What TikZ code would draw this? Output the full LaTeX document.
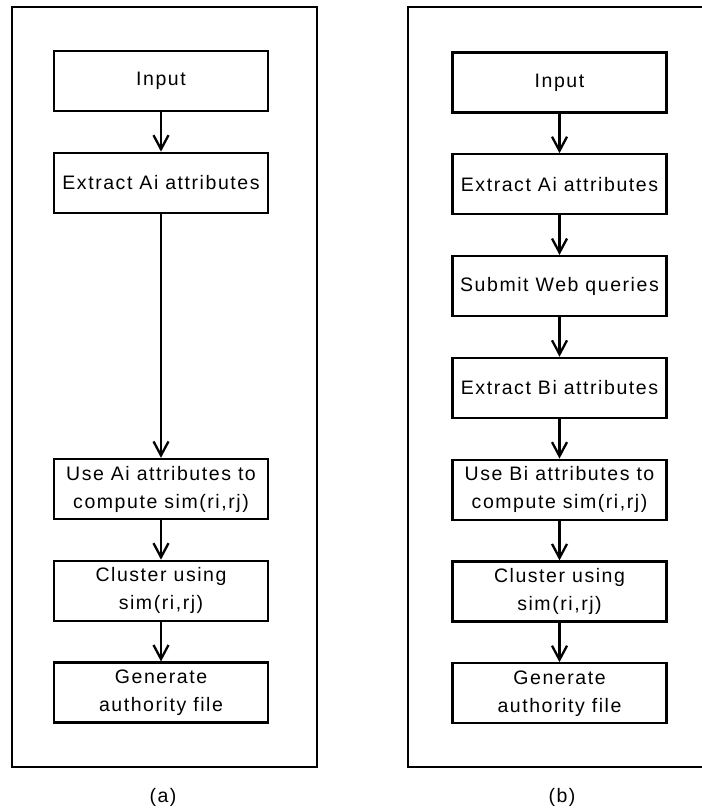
\documentclass[tikz,border=0pt]{standalone}
\usepackage{fontspec}
\setmainfont{Liberation Sans}[LetterSpace=8]
\usetikzlibrary{positioning, arrows.meta}

\begin{document}
\begin{tikzpicture}[x=1pt, y=1pt, node distance={39.5pt}, line width=2.3pt,
    main/.style = {draw, rectangle, minimum width=214pt, minimum height=60pt, inner sep=0pt, align=center, font=\fontsize{19.5}{28}\selectfont},
    sublabel/.style = {font=\fontsize{19.5}{28}\selectfont},
    >={Straight Barb[length=14pt, width=15pt]}]
    \useasboundingbox (0,0) rectangle (701,-810);
    % outer frames
    \draw[line width=2.6pt] (12,-7) rectangle (317,-767);
    \draw[line width=2.6pt] (706,-7) -| (408,-767) -- (706,-767);
    
    % (a)
    \node[main] (a1) at (161,-81) {Input};
    \node[main] (a2) [below=of a1] {Extract Ai attributes};
    \node[main] (a3) at (161,-489) {Use Ai attributes to\\compute sim(ri,rj)};
    \node[main] (a4) [below=of a3] {Cluster using\\sim(ri,rj)};
    \node[main] (a5) [below=of a4] {Generate\\authority file};
    \node[sublabel] (capa) at (163,-797) {(a)};
    
    \draw[->] (a1) -- (a2);
    \draw[->] (a2) -- (a3);
    \draw[->] (a3) -- (a4);
    \draw[->] (a4) -- (a5);
    
    % (b)
    \node[main] (b1) at (559.5,-82.5) {Input};
    \node[main] (b2) [below=of b1] {Extract Ai attributes};
    \node[main] (b3) [below=of b2] {Submit Web queries};
    \node[main] (b4) [below=of b3] {Extract Bi attributes};
    \node[main] (b5) [below=of b4] {Use Bi attributes to\\compute sim(ri,rj)};
    \node[main] (b6) [below=of b5] {Cluster using\\sim(ri,rj)};
    \node[main] (b7) [below=of b6] {Generate\\authority file};
    \node[sublabel] (capb) at (562,-797) {(b)};
    
    \draw[->] (b1) -- (b2);
    \draw[->] (b2) -- (b3);
    \draw[->] (b3) -- (b4);
    \draw[->] (b4) -- (b5);
    \draw[->] (b5) -- (b6);
    \draw[->] (b6) -- (b7);
\end{tikzpicture}
\end{document}
